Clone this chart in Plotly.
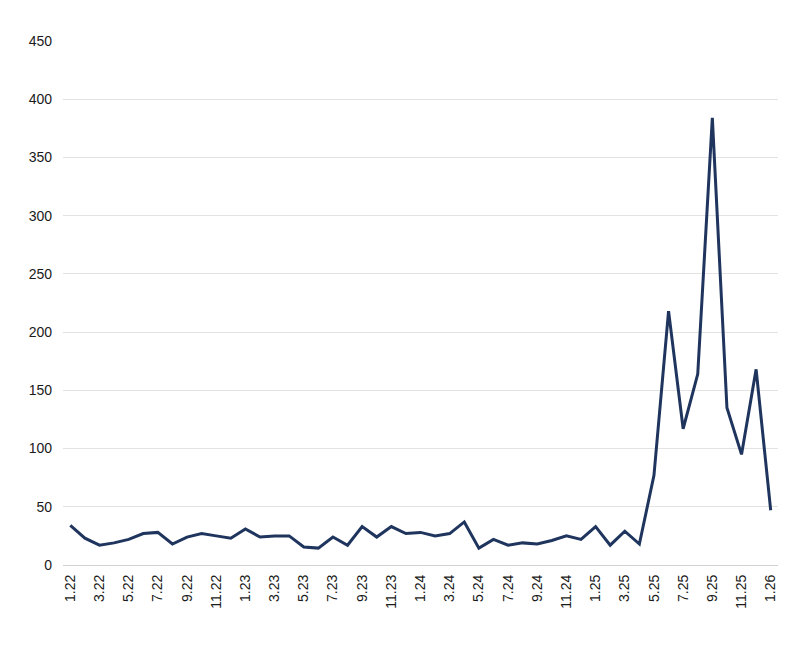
import plotly.graph_objects as go

months = []
for yr in range(22, 27):
    for m in range(1, 13):
        months.append(f"{m}.{yr}")
months = months[:49]  # 1.22 .. 1.26

values = [34, 23, 17, 19, 22, 27, 28, 18, 24, 27, 25, 23,
          31, 24, 25, 25, 15.5, 14.5, 24, 17, 33, 24, 33, 27,
          28, 25, 27, 37, 14.5, 22, 17, 19, 18, 21, 25, 22,
          33, 17, 29, 18, 77, 218, 117, 164, 384, 135, 95, 168,
          47]

tick_labels = months[::2]
y_ticks = [0, 50, 100, 150, 200, 250, 300, 350, 400, 450]

fig = go.Figure(go.Scatter(
    x=months, y=values, mode="lines",
    line=dict(color="#1F355E", width=3),
))

fig.update_layout(
    width=807, height=648,
    margin=dict(l=55, r=37, t=33, b=91),
    paper_bgcolor="white", plot_bgcolor="white",
    font=dict(family="Liberation Sans, Arial, sans-serif", size=14, color="#1a1a1a"),
    showlegend=False,
)
fig.update_xaxes(
    type="category", tickvals=tick_labels, ticktext=tick_labels,
    range=[-0.5, len(months) - 0.5],
    tickangle=-90, showgrid=False, showline=False, ticks="",
    ticklabelstandoff=6,
)
fig.update_yaxes(
    range=[0, 450], tickvals=y_ticks, showgrid=True, gridcolor="#E3E3E3",
    gridwidth=1, zeroline=True, zerolinecolor="#D0D0D0", zerolinewidth=1,
    ticks="", ticklabelstandoff=10,
)

fig.write_html("out.html")
